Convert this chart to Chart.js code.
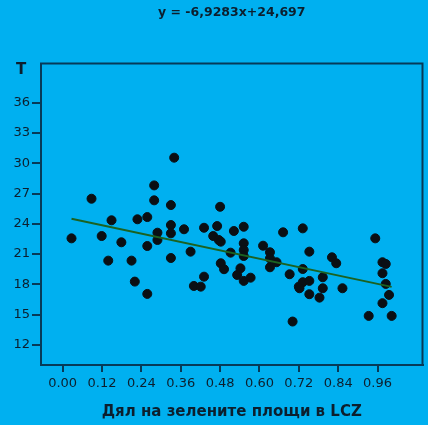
<!DOCTYPE html>
<html>
<head>
<meta charset="utf-8">
<script src="https://cdn.jsdelivr.net/npm/chart.js@4.4.1/dist/chart.umd.min.js"></script>
<style>
  html, body { margin: 0; padding: 0; background: #00b0f0; }
  #wrap { width: 428px; height: 425px; position: relative; }
</style>
</head>
<body>
<div id="wrap"><canvas id="scatterChart"></canvas></div>
<script>
  'use strict';

  const xValues = [0.027, 0.088, 0.119, 0.139, 0.149, 0.179, 0.210, 0.220, 0.228, 0.258,
    0.258, 0.258, 0.279, 0.279, 0.289, 0.289, 0.330, 0.330, 0.330, 0.330,
    0.340, 0.370, 0.390, 0.400, 0.421, 0.431, 0.431, 0.459, 0.471, 0.476,
    0.482, 0.480, 0.482, 0.492, 0.512, 0.522, 0.532, 0.542, 0.552, 0.552,
    0.552, 0.552, 0.552, 0.573, 0.611, 0.632, 0.632, 0.632, 0.652, 0.672,
    0.692, 0.701, 0.720, 0.732, 0.732, 0.732, 0.722, 0.752, 0.752, 0.752,
    0.783, 0.793, 0.793, 0.821, 0.834, 0.853, 0.933, 0.953, 0.975, 0.985,
    0.975, 0.985, 0.995, 0.975, 1.003];

  const yValues = [22.56, 26.49, 22.79, 20.35, 24.35, 22.17, 20.35, 18.27, 24.45, 24.67,
    21.80, 17.05, 27.81, 26.33, 23.12, 22.40, 25.86, 23.88, 23.06, 20.61,
    30.56, 23.46, 21.24, 17.84, 17.77, 23.61, 18.76, 22.79, 23.78, 22.40,
    22.23, 25.69, 20.09, 19.50, 21.14, 23.29, 18.93, 19.59, 23.71, 22.07,
    21.40, 20.81, 18.34, 18.66, 21.83, 21.18, 20.58, 19.69, 20.19, 23.16,
    19.00, 14.31, 17.77, 23.55, 19.52, 18.21, 17.61, 21.24, 18.34, 17.02,
    16.68, 18.70, 17.61, 20.68, 20.09, 17.61, 14.87, 22.56, 20.19, 20.02,
    19.10, 18.04, 16.95, 16.13, 14.87];

  const xTicks = [0, 0.12, 0.24, 0.36, 0.48, 0.60, 0.72, 0.84, 0.96];
  const yTicks = [12, 15, 18, 21, 24, 27, 30, 33, 36];

  const slope = -6.9283;
  const intercept = 24.697;
  const equationLabel = 'y = -6,9283x+24,697';
  const xTitle = 'Дял на зелените площи в LCZ';
  const yTitle = 'T';

  const inkColor = '#0c1f2e';
  const frameColor = '#073a58';
  const fontFamily = "'DejaVu Sans', sans-serif";

  const points = xValues.map((x, i) => ({ x: x, y: yValues[i] }));
  const xMin = Math.min(...xValues);
  const xMax = Math.max(...xValues);
  const trendLine = [xMin, xMax].map(x => ({ x: x, y: slope * x + intercept }));

  // frame around the plot, equation above it, "T" in the corner
  const framePlugin = {
    id: 'frame',
    afterDraw(chart) {
      const { ctx, chartArea } = chart;
      ctx.save();
      ctx.strokeStyle = frameColor;
      ctx.lineWidth = 2;
      ctx.strokeRect(chartArea.left, chartArea.top, chartArea.right - chartArea.left, chartArea.bottom - chartArea.top);
      ctx.fillStyle = inkColor;
      ctx.textAlign = 'center';
      ctx.textBaseline = 'middle';
      ctx.font = 'bold 12.5px ' + fontFamily;
      ctx.fillText(equationLabel, (chartArea.left + chartArea.right) / 2, 13);
      ctx.font = 'bold 15px ' + fontFamily;
      ctx.fillText(yTitle, 21, 70);
      ctx.restore();
    }
  };

  const ctx = document.getElementById('scatterChart').getContext('2d');

  new Chart(ctx, {
    type: 'scatter',
    data: {
      datasets: [{
        data: points,
        backgroundColor: '#0a0f14',
        borderColor: '#0a0f14',
        pointRadius: 4.5,
        pointHoverRadius: 4.5,
        order: 2
      }, {
        type: 'line',
        data: trendLine,
        borderColor: '#1b6222',
        borderWidth: 2,
        pointRadius: 0,
        fill: false,
        order: 1
      }]
    },
    options: {
      responsive: true,
      maintainAspectRatio: false,
      animation: false,
      layout: {
        padding: { left: 0, right: 4, top: 63.5, bottom: 0 }
      },
      plugins: {
        legend: { display: false },
        tooltip: { enabled: false },
        title: { display: false }
      },
      scales: {
        x: {
          type: 'linear',
          min: -0.066,
          max: 1.097,
          afterBuildTicks: axis => { axis.ticks = xTicks.map(v => ({ value: v })); },
          afterFit: axis => { axis.height = 60; },
          ticks: {
            color: inkColor,
            padding: 4,
            maxRotation: 0,
            font: { size: 13, family: fontFamily },
            callback: v => v.toFixed(2)
          },
          grid: {
            drawOnChartArea: false,
            drawTicks: true,
            tickLength: 7,
            color: frameColor,
            lineWidth: 2
          },
          border: { display: true, color: frameColor, width: 2 },
          title: {
            display: true,
            text: xTitle,
            color: inkColor,
            font: { size: 15, weight: 'bold', family: fontFamily },
            padding: { top: 0, bottom: 4 }
          }
        },
        y: {
          type: 'linear',
          min: 10,
          max: 39.9,
          afterBuildTicks: axis => { axis.ticks = yTicks.map(v => ({ value: v })); },
          afterFit: axis => { axis.width = 41; },
          ticks: {
            color: inkColor,
            padding: 2,
            font: { size: 13, family: fontFamily }
          },
          grid: {
            drawOnChartArea: false,
            drawTicks: true,
            tickLength: 9,
            color: frameColor,
            lineWidth: 2
          },
          border: { display: true, color: frameColor, width: 2 }
        }
      }
    },
    plugins: [framePlugin]
  });
</script>
</body>
</html>
